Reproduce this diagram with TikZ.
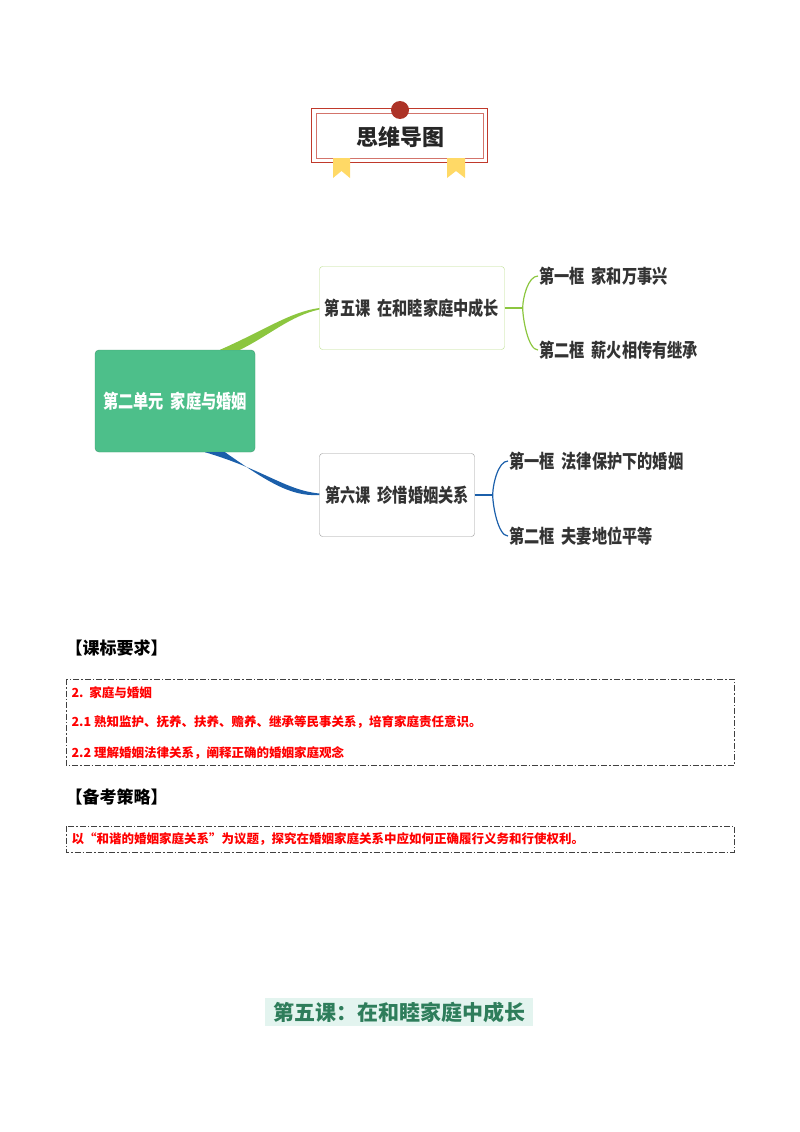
\documentclass[tikz,border=0pt]{standalone}
\usepackage{fontspec}
\setmainfont{Noto Sans CJK SC}
\newfontfamily\mapfont{Noto Sans CJK SC}[FakeStretch=0.8]
\usetikzlibrary{calc,positioning}
\definecolor{rootgreen}{HTML}{4DBF8A}
\definecolor{leafgreen}{HTML}{8CC63F}
\definecolor{leafblue}{HTML}{1B5FAA}
\definecolor{badgered}{HTML}{C0392B}
\definecolor{ribbon}{HTML}{FFD966}
\definecolor{titlegreen}{HTML}{2E7D5B}
\definecolor{titlebg}{HTML}{E3F4EF}
\tikzset{
  lesson/.style={draw, rounded corners=3pt, inner sep=2pt, minimum width=185pt, minimum height=83pt, font=\mapfont\fontsize{19}{22}\selectfont\bfseries, text=black!80},
  frame/.style={anchor=west, inner sep=1pt, font=\mapfont\fontsize{19}{22}\selectfont\bfseries, text=black!80},
  req/.style={anchor=west, text=red, font=\fontsize{12.5}{15}\selectfont\bfseries},
  head/.style={anchor=west, font=\fontsize{17}{20}\selectfont\bfseries},
  dashbox/.style={draw=black!75, line width=1pt, dash pattern=on 6pt off 2pt on 1.5pt off 2pt},
}
\begin{document}
\begin{tikzpicture}[x=1pt,y=-1pt]
\useasboundingbox (0,0) rectangle (800,1132);

% title badge
\draw[badgered, line width=1pt] (311,108) rectangle (487,162);
\draw[badgered!70, line width=0.8pt] (316,113) rectangle (483,158);
\fill[ribbon] (333,158) -- (350,158) -- (350,178) -- (341.5,171) -- (333,178) -- cycle;
\fill[ribbon] (447,158) -- (465,158) -- (465,178) -- (456,171) -- (447,178) -- cycle;
\fill[badgered!90!black] (400,110) circle (9);
\node[font=\fontsize{22}{26}\selectfont\bfseries, text=black!85] (title) at (400,137) {思维导图};

% mind map
\node[fill=rootgreen, draw=rootgreen!80!black, rounded corners=4pt, minimum width=160pt, minimum height=102pt,
  text=white, font=\mapfont\fontsize{19}{22}\selectfont\bfseries] (root) at (175,401) {第二单元\ \ 家庭与婚姻};
\node[lesson, draw=leafgreen!60] (l5) at (412,308) {第五课\ \ 在和睦家庭中成长};
\node[lesson, minimum width=155pt, draw=black!40] (l6) at (397,495) {第六课\ \ 珍惜婚姻关系};

\fill[leafgreen] ($(root.north)+(45,0)$) .. controls (265,330) and (290,312) .. (l5.west)
  -- ($(l5.west)+(0,1.5)$) .. controls (290,316) and (270,335) .. ($(root.north)+(65,0)$) -- cycle;
\fill[leafblue] ($(root.south)+(50,0)$) .. controls (265,480) and (290,497) .. (l6.west)
  -- ($(l6.west)+(0,-1.5)$) .. controls (285,490) and (265,470) .. ($(root.south)+(30,0)$) -- cycle;

\node[frame] (f51) at (538,276) {第一框\ \ 家和万事兴};
\node[frame] (f52) at (538,350) {第二框\ \ 薪火相传有继承};
\node[frame] (f61) at (508,461) {第一框\ \ 法律保护下的婚姻};
\node[frame] (f62) at (508,536) {第二框\ \ 夫妻地位平等};

\draw[leafgreen, line width=1.5pt] (l5.east) -- ++(18,0) coordinate (b5);
\draw[leafgreen, line width=1.2pt] (f51.west) .. controls ++(-10,0) and ++(0,-10) .. (b5) .. controls ++(0,10) and ++(-10,0) .. (f52.west);
\draw[leafblue, line width=1.5pt] (l6.east) -- ++(18,0) coordinate (b6);
\draw[leafblue, line width=1.2pt] (f61.west) .. controls ++(-10,0) and ++(0,-10) .. (b6) .. controls ++(0,10) and ++(-10,0) .. (f62.west);

% requirements
\node[head] (h1) at (62,648) {【课标要求】};
\draw[dashbox] (66,679) rectangle (734,765);
\node[req] (r1) at (68,693) {2.\ \ 家庭与婚姻};
\node[req] (r2) at (68,722) {2.1 熟知监护、抚养、扶养、赡养、继承等民事关系，培育家庭责任意识。};
\node[req] (r3) at (68,753) {2.2 理解婚姻法律关系，阐释正确的婚姻家庭观念};
\node[head] (h2) at (62,797) {【备考策略】};
\draw[dashbox] (66,826) rectangle (734,852);
\node[req] (s1) at (68,839) {以“和谐的婚姻家庭关系”为议题，探究在婚姻家庭关系中应如何正确履行义务和行使权利。};

% lesson title
\fill[titlebg] (265,998) rectangle (533,1026);
\node[text=titlegreen, font=\fontsize{21}{24}\selectfont\bfseries] (lt) at (399,1012) {第五课：在和睦家庭中成长};
\end{tikzpicture}
\end{document}
